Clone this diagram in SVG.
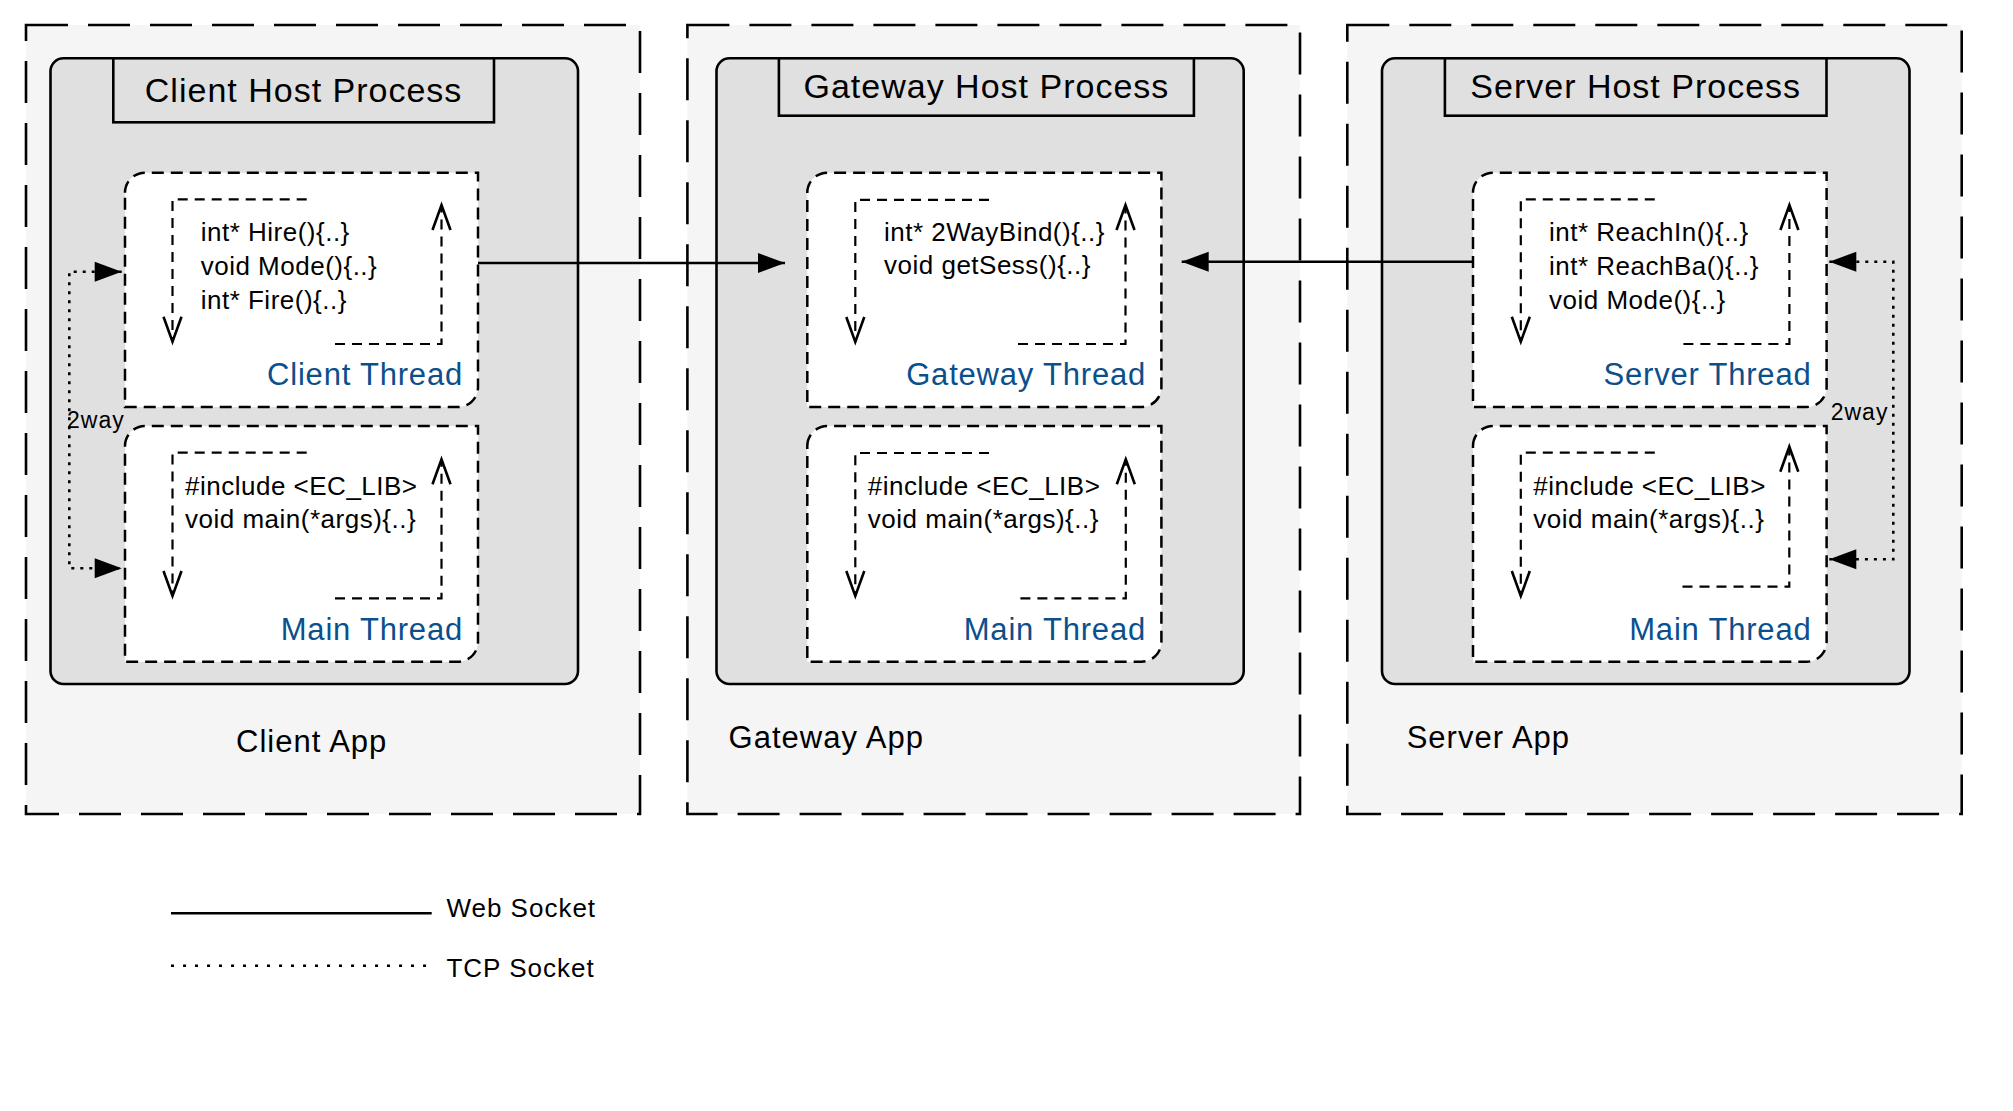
<svg xmlns="http://www.w3.org/2000/svg" width="2013" height="1111" viewBox="0 0 2013 1111">
<style>
.app{fill:#f5f5f5;stroke:#000;stroke-width:2.6;stroke-dasharray:42 20}
.host{fill:#e0e0e0;stroke:#000;stroke-width:2.6}
.title{fill:#e0e0e0;stroke:#000;stroke-width:2.6}
.thread{fill:#fff;stroke:#000;stroke-width:2.5;stroke-dasharray:12 7}
.loop{fill:none;stroke:#000;stroke-width:2.2;stroke-dasharray:10 7}
.ws{fill:none;stroke:#000;stroke-width:2.6}
.tcp{fill:none;stroke:#000;stroke-width:2.6;stroke-dasharray:3 6}
.tcp-legend{fill:none;stroke:#000;stroke-width:2.6;stroke-dasharray:3 9}
text{font-family:"Liberation Sans",Arial,sans-serif;fill:#000}
.t-title{font-size:34px;letter-spacing:1px;text-anchor:middle}
.t-code{font-size:26px;letter-spacing:0.5px}
.t-thread{font-size:31px;letter-spacing:0.8px;text-anchor:end;fill:#0b4f8c}
.t-app{font-size:31px;letter-spacing:1px}
.t-2way{font-size:23px;letter-spacing:1px}
.t-legend{font-size:26px;letter-spacing:1px}
</style>
<defs>
<marker id="open" markerUnits="userSpaceOnUse" markerWidth="40" markerHeight="30" viewBox="-30 -15 40 30" refX="0" refY="0" orient="auto">
<path d="M-25,-9 L0,0 L-25,9" fill="none" stroke="#000" stroke-width="2.6"/>
</marker>
<marker id="solid" markerUnits="userSpaceOnUse" markerWidth="40" markerHeight="30" viewBox="-30 -15 40 30" refX="0" refY="0" orient="auto-start-reverse">
<path d="M-27,-10 L0,0 L-27,10 Z" fill="#000" stroke="none"/>
</marker>
</defs>

<g id="client-app">
<rect class="app" x="26" y="25" width="614" height="789"/>
<text class="t-app" x="236" y="751.7">Client App</text>
</g>
<g id="gateway-app">
<rect class="app" x="687.4" y="25" width="612.6" height="789"/>
<text class="t-app" x="728.6" y="748.3">Gateway App</text>
</g>
<g id="server-app">
<rect class="app" x="1347.3" y="25" width="614.4" height="789"/>
<text class="t-app" x="1406.7" y="748.3">Server App</text>
</g>

<g id="client-host">
<rect class="host" x="50.5" y="58.3" width="527.5" height="625.7" rx="13"/>
<rect class="title" x="113.3" y="58.3" width="380.7" height="64"/>
<text class="t-title" x="303.6" y="101.7">Client Host Process</text>
</g>
<g id="gateway-host">
<rect class="host" x="716.5" y="58.3" width="527.2" height="625.7" rx="13"/>
<rect class="title" x="778.9" y="58.3" width="415" height="57.4"/>
<text class="t-title" x="986.4" y="98.3">Gateway Host Process</text>
</g>
<g id="server-host">
<rect class="host" x="1382" y="58.3" width="527.5" height="625.7" rx="13"/>
<rect class="title" x="1444.9" y="58.3" width="381.6" height="57.4"/>
<text class="t-title" x="1635.7" y="98.3">Server Host Process</text>
</g>

<g id="client-thread">
<path class="thread" d="M125,192.7 A20,20 0 0 1 145,172.7 H478 V387 A20,20 0 0 1 458,407 H125 Z"/>
<path class="loop" d="M306.7,199.3 H172.5 V341.7" marker-end="url(#open)"/>
<path class="loop" d="M335,344 H441.5 V205" marker-end="url(#open)"/>
<text class="t-code" x="200.7" y="240.7">int* Hire(){..}</text>
<text class="t-code" x="200.7" y="275">void Mode(){..}</text>
<text class="t-code" x="200.7" y="309.3">int* Fire(){..}</text>
<text class="t-thread" x="463" y="385">Client Thread</text>
</g>
<g id="client-main">
<path class="thread" d="M125,446 A20,20 0 0 1 145,426 H478 V641.7 A20,20 0 0 1 458,661.7 H125 Z"/>
<path class="loop" d="M306.7,452.7 H172.5 V596" marker-end="url(#open)"/>
<path class="loop" d="M335,598.3 H441.5 V459.3" marker-end="url(#open)"/>
<text class="t-code" x="185" y="495">#include &lt;EC_LIB&gt;</text>
<text class="t-code" x="185" y="528.3">void main(*args){..}</text>
<text class="t-thread" x="463" y="640">Main Thread</text>
</g>

<g id="gateway-thread">
<path class="thread" d="M807.3,192.7 A20,20 0 0 1 827.3,172.7 H1161.4 V387 A20,20 0 0 1 1141.4,407 H807.3 Z"/>
<path class="loop" d="M989,199.8 H855.3 V342" marker-end="url(#open)"/>
<path class="loop" d="M1018,344 H1125.5 V205" marker-end="url(#open)"/>
<text class="t-code" x="884" y="240.7">int* 2WayBind(){..}</text>
<text class="t-code" x="884" y="274.3">void getSess(){..}</text>
<text class="t-thread" x="1146" y="385">Gateway Thread</text>
</g>
<g id="gateway-main">
<path class="thread" d="M807.3,446 A20,20 0 0 1 827.3,426 H1161.4 V641.7 A20,20 0 0 1 1141.4,661.7 H807.3 Z"/>
<path class="loop" d="M989,453 H855.3 V596" marker-end="url(#open)"/>
<path class="loop" d="M1020.4,598.3 H1125.8 V459.3" marker-end="url(#open)"/>
<text class="t-code" x="867.8" y="495">#include &lt;EC_LIB&gt;</text>
<text class="t-code" x="867.8" y="528.3">void main(*args){..}</text>
<text class="t-thread" x="1146" y="640">Main Thread</text>
</g>

<g id="server-thread">
<path class="thread" d="M1473,192.7 A20,20 0 0 1 1493,172.7 H1826.6 V387 A20,20 0 0 1 1806.6,407 H1473 Z"/>
<path class="loop" d="M1654.8,199.3 H1520.8 V341.7" marker-end="url(#open)"/>
<path class="loop" d="M1683.4,344 H1789.4 V205" marker-end="url(#open)"/>
<text class="t-code" x="1549" y="240.7">int* ReachIn(){..}</text>
<text class="t-code" x="1549" y="275">int* ReachBa(){..}</text>
<text class="t-code" x="1549" y="309.3">void Mode(){..}</text>
<text class="t-thread" x="1811.5" y="385">Server Thread</text>
</g>
<g id="server-main">
<path class="thread" d="M1473,446 A20,20 0 0 1 1493,426 H1826.6 V641.7 A20,20 0 0 1 1806.6,661.7 H1473 Z"/>
<path class="loop" d="M1654.8,452.7 H1520.8 V596" marker-end="url(#open)"/>
<path class="loop" d="M1682.5,586.7 H1789.3 V446.7" marker-end="url(#open)"/>
<text class="t-code" x="1533.3" y="495">#include &lt;EC_LIB&gt;</text>
<text class="t-code" x="1533.3" y="528.3">void main(*args){..}</text>
<text class="t-thread" x="1811.5" y="640">Main Thread</text>
</g>

<g id="connectors">
<path class="ws" d="M478,263 H785" marker-end="url(#solid)"/>
<path class="ws" d="M1473,261.7 H1181.7" marker-end="url(#solid)"/>
<path class="tcp" d="M121.7,271.7 H69.3 V568.3 H121.7" marker-start="url(#solid)" marker-end="url(#solid)"/>
<path class="tcp" d="M1829.3,261.7 H1893.3 V559.3 H1829.3" marker-start="url(#solid)" marker-end="url(#solid)"/>
<text class="t-2way" x="67" y="428">2way</text>
<text class="t-2way" x="1830.7" y="420">2way</text>
</g>

<g id="legend">
<path class="ws" d="M171,913.3 H431.7"/>
<path class="tcp-legend" d="M171,965.7 H428"/>
<text class="t-legend" x="446.4" y="916.7">Web Socket</text>
<text class="t-legend" x="446.4" y="977.3">TCP Socket</text>
</g>
</svg>
